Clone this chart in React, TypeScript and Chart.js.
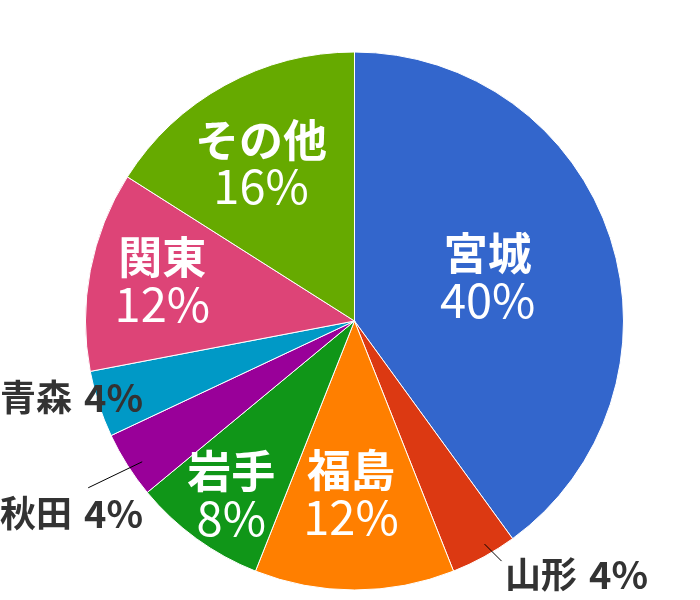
import React, { useEffect, useRef } from "react";
import { Chart, registerables } from "chart.js";

Chart.register(...registerables);

const categories = ["宮城", "山形", "福島", "岩手", "秋田", "青森", "関東", "その他"];
const shares = [40, 4, 12, 8, 4, 4, 12, 16];
const colors = ["#3366cc", "#dc3912", "#ff7f00", "#109618", "#990099", "#0099c6", "#dd4477", "#66aa00"];

const FONT = "'Noto Sans CJK JP', 'Noto Sans', sans-serif";

// label placement per slice (style/position config, not data)
// t: fraction of the slice's angle, r: fraction of the radius
const labelCfg: any[] = [
  { kind: "in", t: 0.501, r: 0.52 },
  { kind: "out", x: 505, y: 574, line: { t: 0.4, r: 0.96, dx: 17, dy: 17 } },
  { kind: "in", t: 0.527, r: 0.646 },
  { kind: "in", t: 0.472, r: 0.795 },
  { kind: "out", x: 0, y: 513, line: { t: 0.42, r: 0.947, dx: -54, dy: 26 } },
  { kind: "out", x: 0, y: 397, line: null },
  { kind: "in", t: 0.516, r: 0.729 },
  { kind: "in", t: 0.465, r: 0.678 },
];

const labelPlugin = {
  id: "sliceLabels",
  afterDatasetsDraw(chart: any) {
    const ctx = chart.ctx;
    const meta = chart.getDatasetMeta(0);
    ctx.save();
    meta.data.forEach((arc: any, i: number) => {
      const { x, y, startAngle, endAngle, outerRadius } = arc.getProps(
        ["x", "y", "startAngle", "endAngle", "outerRadius"],
        true
      );
      const cfg = labelCfg[i];
      const pct = shares[i] + "%";
      if (cfg.kind === "in") {
        const a = startAngle + (endAngle - startAngle) * cfg.t;
        const cx = x + Math.cos(a) * outerRadius * cfg.r;
        const cy = y + Math.sin(a) * outerRadius * cfg.r;
        ctx.fillStyle = "#ffffff";
        ctx.textAlign = "center";
        ctx.textBaseline = "middle";
        ctx.font = "bold 44px " + FONT;
        ctx.fillText(categories[i], cx, cy - 24.5);
        ctx.font = "normal 47px " + FONT;
        ctx.fillText(pct, cx, cy + 22);
      } else {
        if (cfg.line) {
          const l = cfg.line;
          const a = startAngle + (endAngle - startAngle) * l.t;
          const sx = x + Math.cos(a) * outerRadius * l.r;
          const sy = y + Math.sin(a) * outerRadius * l.r;
          ctx.strokeStyle = "#000000";
          ctx.lineWidth = 1;
          ctx.beginPath();
          ctx.moveTo(sx, sy);
          ctx.lineTo(sx + l.dx, sy + l.dy);
          ctx.stroke();
        }
        ctx.fillStyle = "#333333";
        ctx.textAlign = "left";
        ctx.textBaseline = "middle";
        ctx.font = "bold 36px " + FONT;
        ctx.fillText(categories[i], cfg.x, cfg.y);
        ctx.font = "bold 38px " + FONT;
        ctx.fillText(pct, cfg.x + 84, cfg.y + 1);
      }
    });
    ctx.restore();
  },
};

export default function App() {
  const ref = useRef<HTMLCanvasElement | null>(null);
  useEffect(() => {
    document.body.style.margin = "0";
    const chart = new Chart(ref.current as HTMLCanvasElement, {
      type: "pie",
      data: {
        labels: categories,
        datasets: [
          {
            data: shares,
            backgroundColor: colors,
            borderColor: "#ffffff",
            borderWidth: 1,
          },
        ],
      },
      options: {
        responsive: false,
        animation: false,
        layout: { padding: { top: 51, bottom: 9, left: 85, right: 76 } },
        plugins: {
          legend: { display: false },
          tooltip: { enabled: false },
        },
      },
      plugins: [labelPlugin],
    });
    return () => chart.destroy();
  }, []);
  return (
    <div style={{ width: 700, height: 600, background: "#ffffff" }}>
      <canvas ref={ref} width={700} height={600} />
    </div>
  );
}
